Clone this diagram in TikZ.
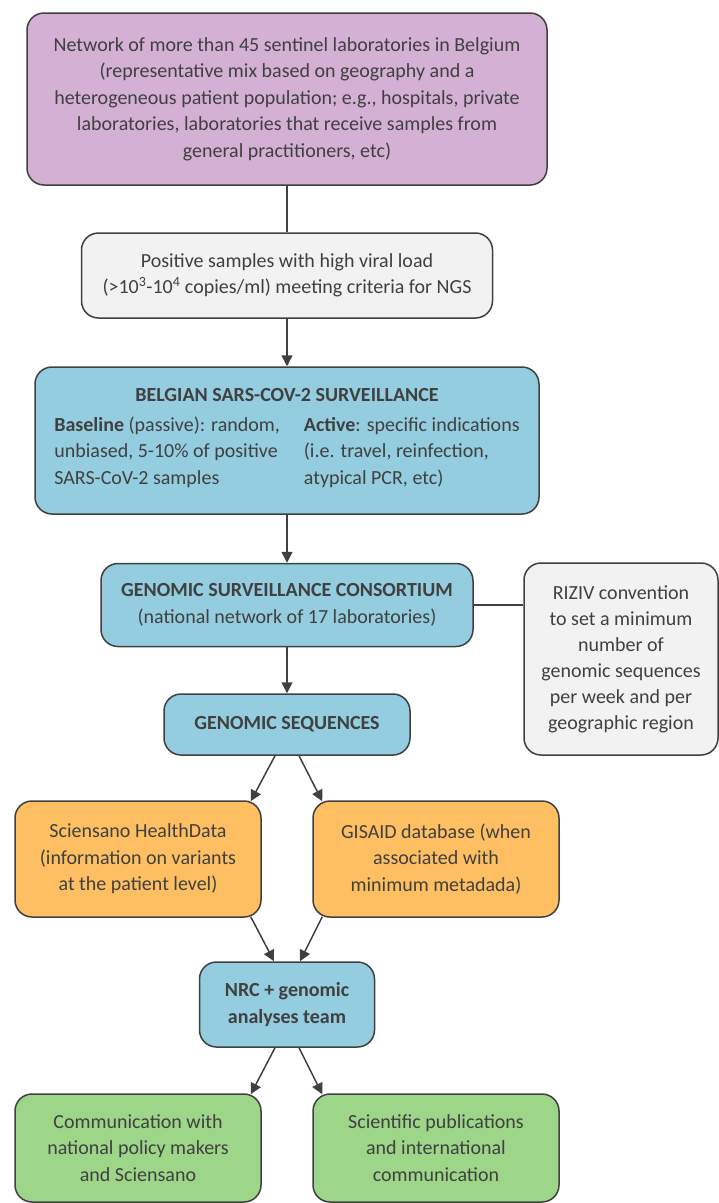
\documentclass[tikz,border=0pt]{standalone}
\usepackage{fontspec}
\setmainfont{Carlito}
\usetikzlibrary{arrows.meta}
\definecolor{bordc}{HTML}{404040}
\definecolor{txtc}{HTML}{404040}
\definecolor{purp}{HTML}{D4B0D4}
\definecolor{greyf}{HTML}{F2F2F2}
\definecolor{bluef}{HTML}{93CDDF}
\definecolor{orf}{HTML}{FDBF61}
\definecolor{grf}{HTML}{9DD589}
\tikzset{
  box/.style={draw=bordc, line width=1.5pt, rounded corners=17pt, align=center,
    font=\fontsize{20}{26.5}\selectfont, text=txtc, inner sep=0pt},
  conn/.style={draw=bordc, line width=1.5pt},
  arr/.style={conn, -{Triangle[length=11pt,width=11pt]}}
}
\begin{document}
\begin{tikzpicture}[x=1pt,y=-1pt]
\useasboundingbox (0,0) rectangle (719,1203);
\node[box, fill=purp, minimum width=520pt, minimum height=172pt] (top) at (287,99)
  {Network of more than 45 sentinel laboratories in Belgium\\
   (representative mix based on geography and a\\
   heterogeneous patient population; e.g., hospitals, private\\
   laboratories, laboratories that receive samples from\\
   general practitioners, etc)};
\node[box, fill=greyf, minimum width=411pt, minimum height=85pt] (pos) at (287,275.5)
  {Positive samples with high viral load\\
   (>10\textsuperscript{3}-10\textsuperscript{4} copies/ml) meeting criteria for NGS};
\node[box, fill=bluef, minimum width=504pt, minimum height=147pt] (surv) at (287,440.5)
  {\textbf{BELGIAN SARS-COV-2 SURVEILLANCE}\\[10pt]
   \begin{tabular}{@{}l@{\hspace{24pt}}l@{}}
   \textbf{Baseline} (passive): random, & \textbf{Active}: specific indications\\
   unbiased, 5-10\% of positive & (i.e. travel, reinfection,\\
   SARS-CoV-2 samples & atypical PCR, etc)
   \end{tabular}};
\node[box, fill=bluef, minimum width=372pt, minimum height=83pt] (cons) at (287,605)
  {\textbf{GENOMIC SURVEILLANCE CONSORTIUM}\\
   (national network of 17 laboratories)};
\node[box, fill=greyf, minimum width=194pt, minimum height=192pt,
  font=\fontsize{20}{26}\selectfont] (riziv) at (621,659)
  {RIZIV convention\\ to set a minimum\\ number of\\ genomic sequences\\
   per week and per\\ geographic region};
\node[box, fill=bluef, minimum width=246pt, minimum height=61pt] (gs) at (287,724.5)
  {\textbf{GENOMIC SEQUENCES}};
\node[box, fill=orf, minimum width=246pt, minimum height=116pt] (hd) at (138,859)
  {Sciensano HealthData\\ (information on variants\\ at the patient level)};
\node[box, fill=orf, minimum width=246pt, minimum height=116pt] (gis) at (436,859)
  {GISAID database (when\\ associated with\\ minimum metadada)};
\node[box, fill=bluef, minimum width=175pt, minimum height=85pt] (nrc) at (287,1004.5)
  {\textbf{NRC + genomic}\\ \textbf{analyses team}};
\node[box, fill=grf, minimum width=246pt, minimum height=108pt] (com) at (138,1148)
  {Communication with\\ national policy makers\\ and Sciensano};
\node[box, fill=grf, minimum width=246pt, minimum height=108pt] (sci) at (436,1148)
  {Scientific publications\\ and international\\ communication};
\draw[conn] (top.south) -- (top.south |- pos.north);
\draw[arr] (pos.south) -- (pos.south |- surv.north);
\draw[arr] (surv.south) -- (surv.south |- cons.north);
\draw[arr] (cons.south) -- (cons.south |- gs.north);
\draw[conn] (cons.east) -- (cons.east -| riziv.west);
\draw[arr] ([xshift=-12pt]gs.south) -- ([xshift=-11pt,yshift=-1pt]hd.north east);
\draw[arr] ([xshift=12pt]gs.south) -- ([xshift=10pt,yshift=-1pt]gis.north west);
\draw[arr] ([xshift=-11pt,yshift=1pt]hd.south east) -- ([xshift=-13pt]nrc.north);
\draw[arr] ([xshift=10pt,yshift=1pt]gis.south west) -- ([xshift=13pt]nrc.north);
\draw[arr] ([xshift=-12pt]nrc.south) -- ([xshift=-11pt,yshift=-1pt]com.north east);
\draw[arr] ([xshift=12pt]nrc.south) -- ([xshift=10pt,yshift=-1pt]sci.north west);
\end{tikzpicture}
\end{document}
